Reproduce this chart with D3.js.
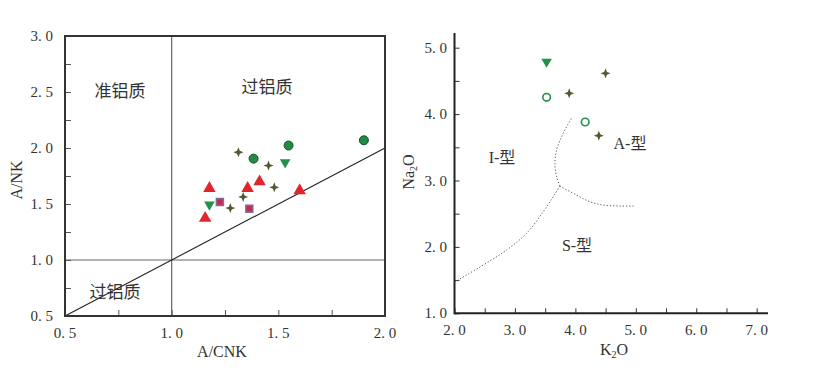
<!DOCTYPE html>
<html><head><meta charset="utf-8">
<script src="https://cdn.jsdelivr.net/npm/d3@7"></script>
<style>body{margin:0;background:#fff}svg{display:block}text{font-family:"Liberation Serif","Noto Sans CJK SC",serif;fill:#333}</style>
</head><body>
<svg id="c" width="820" height="370"></svg>
<script>
// ---- Left chart data (A/CNK vs A/NK) ----
const leftTicks = [0.5, 1.0, 1.5, 2.0];
const leftYTicks = [0.5, 1.0, 1.5, 2.0, 2.5, 3.0];
const greenCircles = [[1.384, 1.905], [1.548, 2.022], [1.901, 2.069]];
const greenTrianglesL = [[1.177, 1.494], [1.532, 1.872]];
const starsL = [[1.313, 1.962], [1.454, 1.843], [1.481, 1.649], [1.335, 1.563], [1.275, 1.464]];
const redTriangles = [[1.177, 1.64], [1.157, 1.374], [1.356, 1.64], [1.412, 1.70], [1.600, 1.62]];
const squares = [[1.226, 1.518], [1.364, 1.458]];
// ---- Right chart data (K2O vs Na2O) ----
const rightXTicks = [2.0, 3.0, 4.0, 5.0, 6.0, 7.0];
const rightYTicks = [1.0, 2.0, 3.0, 4.0, 5.0];
const greenTrianglesR = [[3.524, 4.789]];
const openCircles = [[3.524, 4.253], [4.162, 3.881]];
const starsR = [[4.499, 4.614], [3.898, 4.313], [4.388, 3.675]];
const boundaryIS = [[2.0, 1.47], [2.476, 1.727], [2.862, 1.953], [3.193, 2.205], [3.468, 2.53], [3.633, 2.756], [3.744, 2.917]];
const boundaryIA = [[3.744, 2.917], [3.689, 3.057], [3.661, 3.259], [3.689, 3.459], [3.772, 3.66], [3.855, 3.81], [3.937, 3.937]];
const boundaryAS = [[3.744, 2.917], [4.02, 2.78], [4.24, 2.68], [4.46, 2.63], [4.735, 2.616], [4.983, 2.616]];

const svg = d3.select("#c");
const fmt = d => d.toFixed(1).replace(".", ". ");

function star(g, x, y, r, color) {
  const s = r, w = r * 0.28;
  const p = [[0,-s],[w,-w],[s,0],[w,w],[0,s],[-w,w],[-s,0],[-w,-w]];
  g.append("path").attr("d", "M" + p.map(q => [x + q[0], y + q[1]].join(",")).join("L") + "Z").attr("fill", color);
}
function triUp(g, x, y, r, color) {
  g.append("path").attr("d", d3.symbol(d3.symbolTriangle, r * r * 1.6)()).attr("transform", `translate(${x},${y})`).attr("fill", color);
}
function triDown(g, x, y, r, color) {
  g.append("path").attr("d", d3.symbol(d3.symbolTriangle, r * r * 1.6)()).attr("transform", `translate(${x},${y}) rotate(180)`).attr("fill", color);
}

// ===== Left chart =====
{
  const L = 65, R = 385, T = 36, B = 316;
  const x = d3.scaleLinear().domain([0.5, 2.0]).range([L, R]);
  const y = d3.scaleLinear().domain([0.5, 3.0]).range([B, T]);
  const g = svg.append("g");
  g.append("line").attr("x1", x(1)).attr("x2", x(1)).attr("y1", T).attr("y2", B).attr("stroke", "#666").attr("stroke-width", 1.2);
  g.append("line").attr("x1", L).attr("x2", R).attr("y1", y(1)).attr("y2", y(1)).attr("stroke", "#666").attr("stroke-width", 1.2);
  g.append("line").attr("x1", x(0.5)).attr("y1", y(0.5)).attr("x2", x(2.0)).attr("y2", y(2.0)).attr("stroke", "#222").attr("stroke-width", 1.1);
  const xa = d3.axisTop(x).tickValues(d3.range(0.5, 2.01, 0.25)).tickSize(6).tickFormat("");
  g.append("g").attr("transform", `translate(0,${B})`).call(xa).call(s => { s.select(".domain").remove(); s.selectAll("line").attr("stroke", "#555"); });
  const ya = d3.axisRight(y).tickValues(d3.range(0.5, 3.01, 0.25)).tickSize(6).tickFormat("");
  g.append("g").attr("transform", `translate(${L},0)`).call(ya).call(s => { s.select(".domain").remove(); s.selectAll("line").attr("stroke", "#555"); });
  g.append("rect").attr("x", L).attr("y", T).attr("width", R - L).attr("height", B - T).attr("fill", "none").attr("stroke", "#333").attr("stroke-width", 2);
  leftTicks.forEach(v => g.append("text").attr("x", x(v)).attr("y", 338).attr("text-anchor", "middle").attr("font-size", 15).text(fmt(v)));
  leftYTicks.forEach(v => g.append("text").attr("x", 53).attr("y", y(v) + 5).attr("text-anchor", "end").attr("font-size", 15).text(fmt(v)));
  g.append("text").attr("x", 222).attr("y", 357).attr("text-anchor", "middle").attr("font-size", 16).text("A/CNK");
  g.append("text").attr("transform", "translate(22,180) rotate(-90)").attr("text-anchor", "middle").attr("font-size", 16).text("A/NK");
  g.append("text").attr("x", 120).attr("y", 97).attr("text-anchor", "middle").attr("font-size", 17).text("准铝质");
  g.append("text").attr("x", 267).attr("y", 93).attr("text-anchor", "middle").attr("font-size", 17).text("过铝质");
  g.append("text").attr("x", 115).attr("y", 298).attr("text-anchor", "middle").attr("font-size", 17).text("过铝质");
  greenCircles.forEach(d => g.append("circle").attr("cx", x(d[0])).attr("cy", y(d[1])).attr("r", 4.5).attr("fill", "#1f8c45").attr("stroke", "#1d4d2a").attr("stroke-width", 1));
  greenTrianglesL.forEach(d => triDown(g, x(d[0]), y(d[1]), 5.5, "#23914a"));
  starsL.forEach(d => star(g, x(d[0]), y(d[1]), 5, "#4d5b30"));
  redTriangles.forEach(d => triUp(g, x(d[0]), y(d[1]), 6.5, "#e0262a"));
  squares.forEach(d => g.append("rect").attr("x", x(d[0]) - 3.5).attr("y", y(d[1]) - 3.5).attr("width", 7).attr("height", 7).attr("fill", "#d42447").attr("stroke", "#7a6f9e").attr("stroke-width", 1.5));
}

// ===== Right chart =====
{
  const L = 454.5, Bp = 313.3;
  const x = d3.scaleLinear().domain([2.0, 7.0]).range([L, 756.7]);
  const y = d3.scaleLinear().domain([1.0, 5.0]).range([Bp, 47.7]);
  const g = svg.append("g");
  const xa = d3.axisTop(x).tickValues(d3.range(2.0, 7.01, 0.5)).tickSize(5).tickFormat("");
  g.append("g").attr("transform", `translate(0,${Bp})`).call(xa).call(s => { s.select(".domain").remove(); s.selectAll("line").attr("stroke", "#333"); });
  const ya = d3.axisRight(y).tickValues(d3.range(1.0, 5.01, 0.5)).tickSize(5).tickFormat("");
  g.append("g").attr("transform", `translate(${L},0)`).call(ya).call(s => { s.select(".domain").remove(); s.selectAll("line").attr("stroke", "#333"); });
  g.append("line").attr("x1", L).attr("x2", 768).attr("y1", Bp).attr("y2", Bp).attr("stroke", "#222").attr("stroke-width", 2);
  g.append("line").attr("x1", L).attr("x2", L).attr("y1", 33).attr("y2", Bp + 1).attr("stroke", "#222").attr("stroke-width", 2);
  rightXTicks.forEach(v => g.append("text").attr("x", x(v)).attr("y", 335).attr("text-anchor", "middle").attr("font-size", 15).text(fmt(v)));
  rightYTicks.forEach(v => g.append("text").attr("x", 447).attr("y", y(v) + 5).attr("text-anchor", "end").attr("font-size", 15).text(fmt(v)));
  const xt = g.append("text").attr("x", 614).attr("y", 355).attr("text-anchor", "middle").attr("font-size", 16);
  xt.append("tspan").text("K");
  xt.append("tspan").attr("font-size", 10).attr("dy", 3).text("2");
  xt.append("tspan").attr("dy", -3).text("O");
  const yt = g.append("text").attr("transform", "translate(414,172) rotate(-90)").attr("text-anchor", "middle").attr("font-size", 16);
  yt.append("tspan").text("Na");
  yt.append("tspan").attr("font-size", 10).attr("dy", 3).text("2");
  yt.append("tspan").attr("dy", -3).text("O");
  const line = d3.line().x(d => x(d[0])).y(d => y(d[1])).curve(d3.curveCatmullRom);
  [boundaryIS, boundaryIA, boundaryAS].forEach(b => g.append("path").attr("d", line(b)).attr("fill", "none").attr("stroke", "#555").attr("stroke-width", 1).attr("stroke-dasharray", "1.2,2"));
  g.append("text").attr("x", 502).attr("y", 163).attr("text-anchor", "middle").attr("font-size", 16).text("I-型");
  g.append("text").attr("x", 630).attr("y", 149).attr("text-anchor", "middle").attr("font-size", 16).text("A-型");
  g.append("text").attr("x", 577).attr("y", 251).attr("text-anchor", "middle").attr("font-size", 16).text("S-型");
  greenTrianglesR.forEach(d => triDown(g, x(d[0]), y(d[1]), 5.5, "#23914a"));
  openCircles.forEach(d => g.append("circle").attr("cx", x(d[0])).attr("cy", y(d[1])).attr("r", 3.8).attr("fill", "#fff").attr("stroke", "#23914a").attr("stroke-width", 1.6));
  starsR.forEach(d => star(g, x(d[0]), y(d[1]), 5, "#4d5b30"));
}
</script>
</body></html>
